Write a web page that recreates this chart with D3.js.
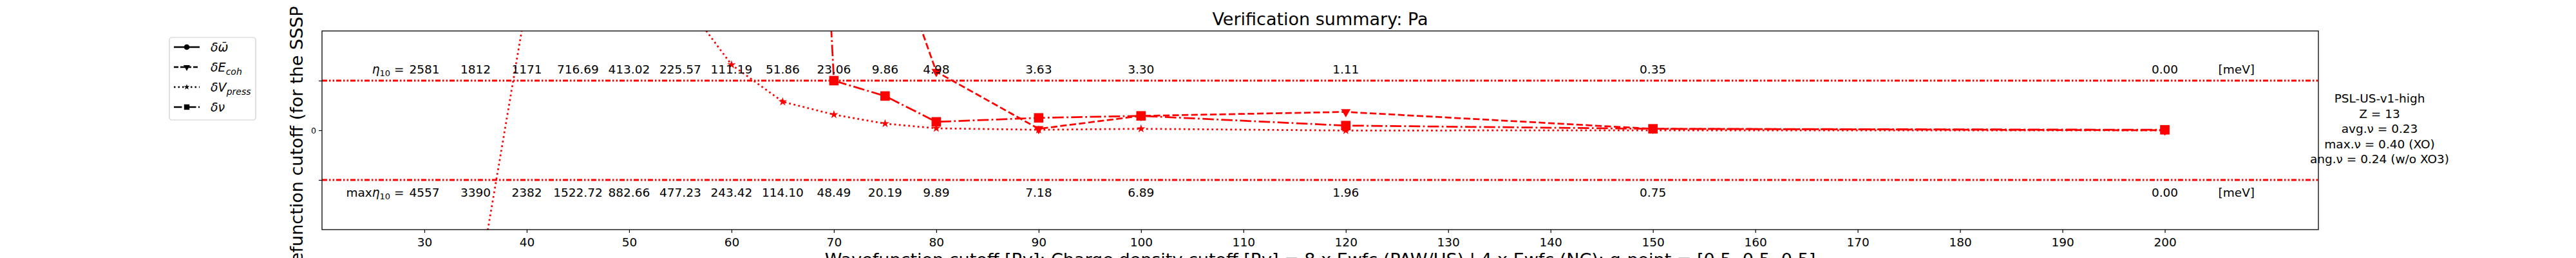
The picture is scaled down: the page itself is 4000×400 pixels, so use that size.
<!DOCTYPE html>
<html><head><meta charset="utf-8">
<script src="https://cdn.jsdelivr.net/npm/d3@7"></script>
<style>
body{margin:0;background:#fff}
text{font-family:"DejaVu Sans",sans-serif;fill:#000}
</style>
</head><body>
<svg id="chart" width="4000" height="400"></svg>
<script>
// ---------------- data ----------------
const cutoffs = [30, 35, 40, 45, 50, 55, 60, 65, 70, 75, 80, 90, 100, 120, 150, 200];
const etaLabels = ["2581","1812","1171","716.69","413.02","225.57","111.19","51.86","23.06","9.86","4.98","3.63","3.30","1.11","0.35","0.00"];
const maxEtaLabels = ["4557","3390","2382","1522.72","882.66","477.23","243.42","114.10","48.49","20.19","9.89","7.18","6.89","1.96","0.75","0.00"];
// normalised deviations (values beyond the view are estimates)
const omegaValues = [];
const cohesiveValues = [60, 45, 32, 24, 18, 13, 10, 7, 5.5, 4.1, 1.18, 0.03, 0.29, 0.37, 0.03, 0.0];
const pressureValues = [-12, -3.45, 2.6, 6, 4.5, 2.7, 1.32, 0.575, 0.316, 0.134, 0.04, 0.01, 0.03, -0.005, 0.0, 0.0];
const phononValues = [90, 70, 55, 42, 33, 26, 23, 21, 1.0, 0.69, 0.17, 0.25, 0.29, 0.095, 0.03, 0.01];
const xTicks = [30, 40, 50, 60, 70, 80, 90, 100, 110, 120, 130, 140, 150, 160, 170, 180, 190, 200];
const yTicks = [-1, 0, 1];
const refLevels = [1, -1];
const infoLines = ["PSL-US-v1-high", "Z = 13", "avg.\u03BD = 0.23", "max.\u03BD = 0.40 (XO)", "ang.\u03BD = 0.24 (w/o XO3)"];
const unitLabel = "[meV]";
const titleText = "Verification summary: Pa";
const xLabelText = "Wavefunction cutoff [Ry]; Charge density cutoff [Ry] = 8 x Ewfc (PAW/US) | 4 x Ewfc (NC); q-point = [0.5, 0.5, 0.5]";
const yLabelText = "Wavefunction cutoff (for the SSSP test)";

// ---------------- layout ----------------
const L = 500, R = 3600, T = 48, B = 356;
const svg = d3.select("#chart");
const x = d3.scaleLinear().domain([20, 215]).range([L, R]);
const y = d3.scaleLinear().domain([-2, 2]).range([B, T]);
const RED = "#ff0000";
const LW = 2.75;
const styles = {
  dotted: "2.75,4.5",
  dashed: "10.2,4.4",
  dashdot: "17.6,4.4,2.75,4.4",
  ref: "8,3,2.5,3,2.5,3"
};

svg.append("defs").append("clipPath").attr("id", "clip")
  .append("rect").attr("x", L).attr("y", T).attr("width", R - L).attr("height", B - T);

// title
svg.append("text").attr("x", (L + R) / 2).attr("y", 39).attr("text-anchor", "middle")
  .style("font-size", "27px").text(titleText);

// axes
const xAxis = d3.axisBottom(x).tickValues(xTicks).tickSize(5).tickPadding(8).tickFormat(d3.format("d"));
const gx = svg.append("g").attr("transform", `translate(0,${B})`).call(xAxis);
gx.select(".domain").remove();
gx.selectAll("text").style("font-size", "18.5px").style("font-family", "DejaVu Sans");
gx.selectAll("line").attr("stroke-width", 1.2);

const yAxis = d3.axisLeft(y).tickValues(yTicks).tickSize(5).tickPadding(4).tickFormat(d => d === 0 ? "0" : "");
const gy = svg.append("g").attr("transform", `translate(${L},0)`).call(yAxis);
gy.select(".domain").remove();
gy.selectAll("text").style("font-size", "12.5px").style("font-family", "DejaVu Sans");
gy.selectAll("line").attr("stroke-width", 1.2);

svg.append("text").attr("x", (L + R) / 2).attr("y", 412).attr("text-anchor", "middle")
  .style("font-size", "27px").text(xLabelText);
svg.append("text").attr("transform", `translate(470,${(T + B) / 2}) rotate(-90)`).attr("text-anchor", "middle")
  .style("font-size", "27px").text(yLabelText);

// plot area
const plot = svg.append("g").attr("clip-path", "url(#clip)");

plot.selectAll("line.ref").data(refLevels).enter().append("line")
  .attr("x1", L).attr("x2", R).attr("y1", d => y(d)).attr("y2", d => y(d))
  .attr("stroke", RED).attr("stroke-width", 3).attr("stroke-dasharray", styles.ref);

const series = [
  { vals: omegaValues, dash: null, sym: d3.symbolCircle, size: 120, rot: 0 },
  { vals: cohesiveValues, dash: styles.dashed, sym: d3.symbolTriangle, size: 95, rot: 180 },
  { vals: pressureValues, dash: styles.dotted, sym: d3.symbolStar, size: 55, rot: 0 },
  { vals: phononValues, dash: styles.dashdot, sym: d3.symbolSquare, size: 215, rot: 0 }
];
const line = d3.line().x(d => x(d[0])).y(d => y(d[1]));
series.forEach(s => {
  const pts = s.vals.map((v, i) => [cutoffs[i], v]);
  if (!pts.length) return;
  plot.append("path").datum(pts).attr("d", line).attr("fill", "none")
    .attr("stroke", RED).attr("stroke-width", LW)
    .attr("stroke-dasharray", s.dash);
  plot.selectAll(null).data(pts).enter().append("path")
    .attr("d", d3.symbol().type(s.sym).size(s.size))
    .attr("transform", d => `translate(${x(d[0])},${y(d[1])}) rotate(${s.rot})`)
    .attr("fill", RED);
});

// eta rows
function row(labels, baseline, prefix) {
  const g = svg.append("g").style("font-size", "18.5px");
  const t = g.selectAll("text").data(labels).enter().append("text")
    .attr("x", (d, i) => x(cutoffs[i])).attr("y", baseline).attr("text-anchor", "middle").text(d => d);
  const w0 = t.node().getComputedTextLength();
  const p = g.append("text").attr("x", x(cutoffs[0]) - w0 / 2 - 8).attr("y", baseline).attr("text-anchor", "end");
  if (prefix) p.append("tspan").text(prefix);
  p.append("tspan").style("font-style", "italic").text("\u03B7");
  p.append("tspan").attr("dy", 4).style("font-size", "13px").text("10");
  p.append("tspan").attr("dy", -4).text(" =");
  g.append("text").attr("x", x(207)).attr("y", baseline).attr("text-anchor", "middle").text(unitLabel);
}
row(etaLabels, 114, "");
row(maxEtaLabels, 305, "max");

// info text
svg.append("g").style("font-size", "18.5px").selectAll("text").data(infoLines).enter().append("text")
  .attr("x", 3695).attr("y", (d, i) => 159 + i * 23.5).attr("text-anchor", "middle").text(d => d);

// frame
svg.append("rect").attr("x", L).attr("y", T).attr("width", R - L).attr("height", B - T)
  .attr("fill", "none").attr("stroke", "#000").attr("stroke-width", 1.3);

// legend
const leg = svg.append("g");
leg.append("rect").attr("x", 263).attr("y", 58).attr("width", 134).attr("height", 128).attr("rx", 4)
  .attr("fill", "#fff").attr("stroke", "#cccccc").attr("stroke-width", 1.2);
const legendItems = [
  { main: "\u03B4\u03C9\u0304", sub: "", dash: null, sym: d3.symbolCircle, size: 60, rot: 0 },
  { main: "\u03B4E", sub: "coh", dash: "7,3", sym: d3.symbolTriangle, size: 45, rot: 180 },
  { main: "\u03B4V", sub: "press", dash: "2.5,4", sym: d3.symbolStar, size: 25, rot: 0 },
  { main: "\u03B4\u03BD", sub: "", dash: "12.5,3.5,2.5,3.5", sym: d3.symbolSquare, size: 70, rot: 0 }
];
const rowsY = [73, 104, 135, 166];
legendItems.forEach((it, i) => {
  const cy = rowsY[i];
  leg.append("line").attr("x1", 270).attr("x2", 310).attr("y1", cy).attr("y2", cy)
    .attr("stroke", "#000").attr("stroke-width", 2.5).attr("stroke-dasharray", it.dash);
  leg.append("path").attr("d", d3.symbol().type(it.sym).size(it.size)())
    .attr("transform", `translate(290,${cy}) rotate(${it.rot})`).attr("fill", "#000");
  const t = leg.append("text").attr("x", 327).attr("y", cy + 7).style("font-size", "19px").style("font-style", "italic");
  t.append("tspan").text(it.main);
  if (it.sub) t.append("tspan").attr("dy", 5).style("font-size", "14px").text(it.sub);
});
</script>
</body></html>
